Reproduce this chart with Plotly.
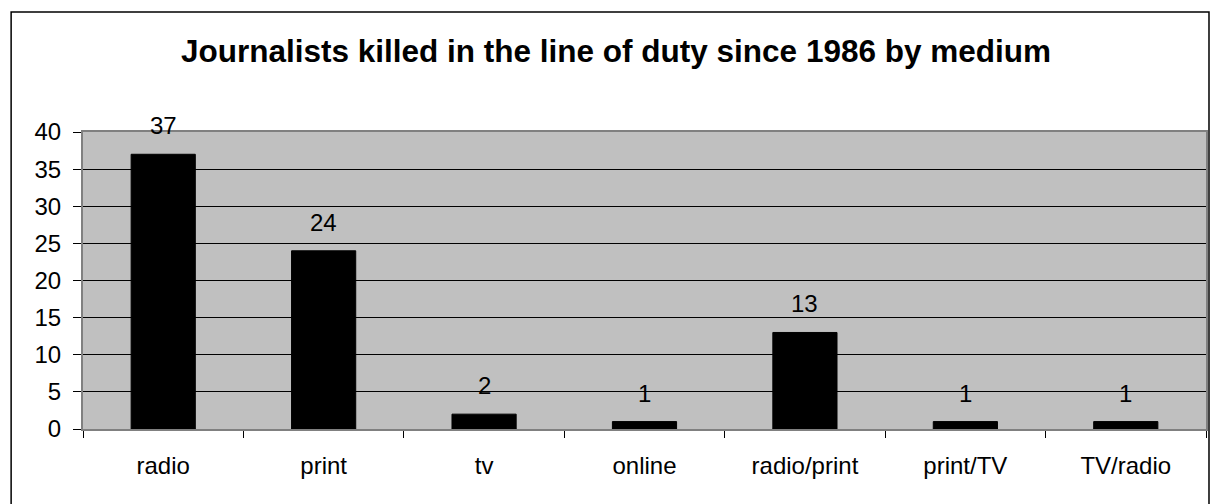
import plotly.graph_objects as go

categories = ["radio", "print", "tv", "online", "radio/print", "print/TV", "TV/radio"]
killed = [37, 24, 2, 1, 13, 1, 1]
y_ticks = [0, 5, 10, 15, 20, 25, 30, 35, 40]

W, H = 1212, 504
L, R, T, B = 83, 4, 132, 75
pw, ph = W - L - R, H - T - B
FONT = "Liberation Sans, Arial"

fig = go.Figure()
fig.add_trace(go.Bar(
    x=categories, y=killed, width=0.4,
    marker=dict(color="#000000", line=dict(color="#000000", width=1)),
    hoverinfo="x+y",
))

for c, v in zip(categories, killed):
    fig.add_annotation(x=c, y=v, text=str(v), showarrow=False,
                       yanchor="bottom", yshift=13,
                       font=dict(family=FONT, size=24, color="#000"))

def px_x(px):
    return (px - L) / pw

def px_y(py):
    return (H - B - py) / ph

fig.add_shape(type="rect", xref="paper", yref="paper",
              x0=px_x(11), x1=px_x(1211), y0=px_y(12), y1=px_y(520),
              line=dict(color="#000000", width=1.5), fillcolor="rgba(0,0,0,0)", layer="below")

fig.update_layout(
    width=W, height=H,
    margin=dict(l=L, r=R, t=T, b=B, pad=0),
    paper_bgcolor="#FFFFFF", plot_bgcolor="#C0C0C0",
    showlegend=False,
    font=dict(family=FONT, size=24, color="#000"),
    title=dict(text="<b>Journalists killed in the line of duty since 1986 by medium</b>",
               x=(616 / W), xanchor="center", y=1 - 51 / H, yanchor="middle",
               font=dict(family=FONT, size=31.5, color="#000")),
    bargap=0.6,
)
fig.update_xaxes(
    type="category", tickson="boundaries", ticks="outside", ticklen=7,
    tickcolor="#000", linecolor="#808080", linewidth=2, showline=True, mirror=True,
    showgrid=False, ticklabelstandoff=14,
    tickfont=dict(size=24),
)
fig.update_yaxes(
    range=[0, 40], tickvals=y_ticks, ticks="outside", ticklen=8, tickcolor="#000",
    showgrid=True, gridcolor="#000000", gridwidth=1,
    linecolor="#808080", linewidth=2, showline=True, mirror=True,
    zeroline=False, ticklabelstandoff=7,
    tickfont=dict(size=24),
)

fig.write_html("out.html", config={"displayModeBar": False},
               post_script="document.body.style.margin='0';document.body.style.padding='0';")
